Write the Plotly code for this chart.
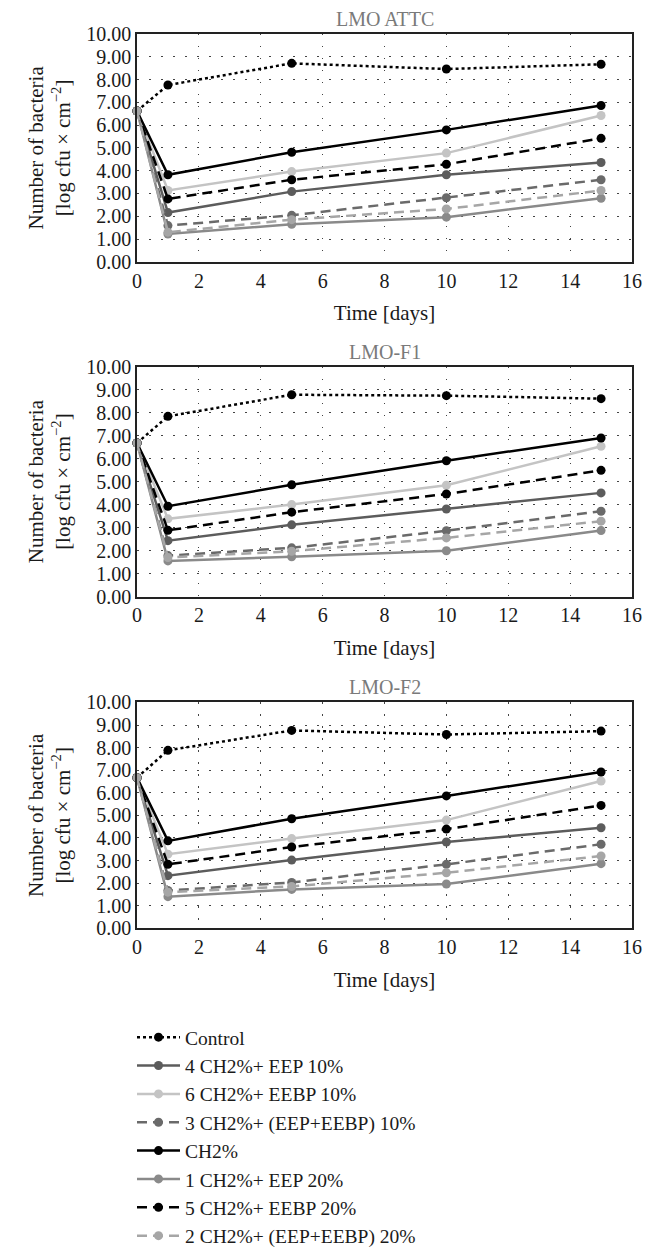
import plotly.graph_objects as go

W, H = 654, 1255

days = [0, 1, 5, 10, 15]
panel_titles = ["LMO ATTC", "LMO-F1", "LMO-F2"]
series_names = ["Control", "4 CH2%+ EEP 10%", "6 CH2%+ EEBP 10%",
                "3 CH2%+ (EEP+EEBP) 10%", "CH2%", "1 CH2%+ EEP 20%",
                "5 CH2%+ EEBP 20%", "2 CH2%+ (EEP+EEBP) 20%"]
y_ticks = [0, 1, 2, 3, 4, 5, 6, 7, 8, 9, 10]
x_ticks = [0, 2, 4, 6, 8, 10, 12, 14, 16]

# LMO ATTC
attc_control = [6.62, 7.76, 8.71, 8.46, 8.67]
attc_eep10 = [6.62, 2.16, 3.08, 3.82, 4.36]
attc_eebp10 = [6.62, 3.13, 3.96, 4.77, 6.42]
attc_mix10 = [6.62, 1.59, 2.04, 2.81, 3.60]
attc_ch2 = [6.62, 3.82, 4.81, 5.79, 6.86]
attc_eep20 = [6.62, 1.22, 1.65, 1.96, 2.79]
attc_eebp20 = [6.62, 2.76, 3.60, 4.28, 5.42]
attc_mix20 = [6.62, 1.30, 1.85, 2.32, 3.13]

# LMO-F1
f1_control = [6.68, 7.84, 8.78, 8.74, 8.61]
f1_eep10 = [6.68, 2.43, 3.12, 3.81, 4.51]
f1_eebp10 = [6.68, 3.38, 4.00, 4.84, 6.54]
f1_mix10 = [6.68, 1.78, 2.12, 2.86, 3.71]
f1_ch2 = [6.68, 3.93, 4.86, 5.91, 6.90]
f1_eep20 = [6.68, 1.55, 1.73, 1.99, 2.87]
f1_eebp20 = [6.68, 2.88, 3.67, 4.46, 5.49]
f1_mix20 = [6.68, 1.70, 1.97, 2.55, 3.28]

# LMO-F2
f2_control = [6.67, 7.88, 8.76, 8.58, 8.73]
f2_eep10 = [6.67, 2.33, 3.02, 3.82, 4.45]
f2_eebp10 = [6.67, 3.28, 3.97, 4.79, 6.52]
f2_mix10 = [6.67, 1.67, 2.03, 2.83, 3.72]
f2_ch2 = [6.67, 3.87, 4.85, 5.86, 6.92]
f2_eep20 = [6.67, 1.40, 1.72, 1.96, 2.86]
f2_eebp20 = [6.67, 2.83, 3.60, 4.39, 5.44]
f2_mix20 = [6.67, 1.60, 1.85, 2.46, 3.20]

panels = [
    [attc_control, attc_eep10, attc_eebp10, attc_mix10, attc_ch2, attc_eep20, attc_eebp20, attc_mix20],
    [f1_control, f1_eep10, f1_eebp10, f1_mix10, f1_ch2, f1_eep20, f1_eebp20, f1_mix20],
    [f2_control, f2_eep10, f2_eebp10, f2_mix10, f2_ch2, f2_eep20, f2_eebp20, f2_mix20],
]

colors = ["#000000", "#5c5c5c", "#c4c4c4", "#6a6a6a", "#000000", "#8a8a8a", "#000000", "#a6a6a6"]
dashes = ["dot", "solid", "solid", "10px,6px", "solid", "solid", "10px,6px", "10px,6px"]

FONT = "'Liberation Serif', 'Times New Roman', serif"
TXT = "#1a1a1a"

# pixel layout (top, bottom) of plot frames
frames_px = [(34, 262), (367, 597), (703, 929)]
x_left, x_right = 137, 632

fig = go.Figure()

for p, series in enumerate(panels):
    ax = "" if p == 0 else str(p + 1)
    for i, vals in enumerate(series):
        fig.add_trace(go.Scatter(
            x=days, y=vals, name=series_names[i],
            mode="lines+markers",
            line=dict(color=colors[i], width=2.5, dash=dashes[i]),
            marker=dict(color=colors[i], size=9),
            xaxis="x" + ax, yaxis="y" + ax,
            showlegend=(p == 0), legendrank=i + 1,
            cliponaxis=False,
        ))

layout = dict(
    width=W, height=H,
    margin=dict(l=0, r=0, t=0, b=0),
    paper_bgcolor="white", plot_bgcolor="white",
    font=dict(family=FONT, size=20, color=TXT),
    showlegend=True,
    legend=dict(
        x=132 / W, xanchor="left",
        y=1 - 1019 / H, yanchor="top",
        font=dict(family=FONT, size=19.5, color=TXT),
        bgcolor="rgba(0,0,0,0)", borderwidth=0,
        tracegroupgap=0, traceorder="normal", itemwidth=43,
    ),
)

annotations = []
for p, (top, bot) in enumerate(frames_px):
    ax = "" if p == 0 else str(p + 1)
    layout["xaxis" + ax] = dict(
        domain=[x_left / W, x_right / W],
        range=[0, 16], tickvals=x_ticks,
        anchor="y" + ax,
        showline=True, linecolor="#222", linewidth=1.5, mirror=True,
        showgrid=True, gridcolor="#444", gridwidth=1, griddash="1.5px,10.5px",
        zeroline=False, ticks="", automargin=False,
        tickfont=dict(family=FONT, size=20, color=TXT),
        title=dict(text="Time [days]", standoff=15,
                   font=dict(family=FONT, size=21, color=TXT)),
    )
    layout["yaxis" + ax] = dict(
        domain=[1 - bot / H, 1 - top / H],
        range=[0, 10], tickvals=y_ticks, tickformat=".2f",
        anchor="x" + ax,
        showline=True, linecolor="#222", linewidth=1.5, mirror=True,
        showgrid=True, gridcolor="#444", gridwidth=1, griddash="1.5px,10.5px",
        zeroline=False, ticks="", automargin=False,
        tickfont=dict(family=FONT, size=20, color=TXT),
        title=dict(text="Number of bacteria<br>[log cfu × cm<sup>−2</sup>]", standoff=10,
                   font=dict(family=FONT, size=21, color=TXT)),
    )
    annotations.append(dict(
        text=panel_titles[p], xref="paper", yref="paper",
        x=(x_left + x_right) / 2 / W, y=1 - (top - 2) / H,
        xanchor="center", yanchor="bottom", showarrow=False,
        font=dict(family=FONT, size=20, color="#7a7a7a"),
    ))

layout["annotations"] = annotations
fig.update_layout(**layout)

fig.write_html("out.html", config={"displayModeBar": False},
               post_script="document.body.style.margin='0';")
